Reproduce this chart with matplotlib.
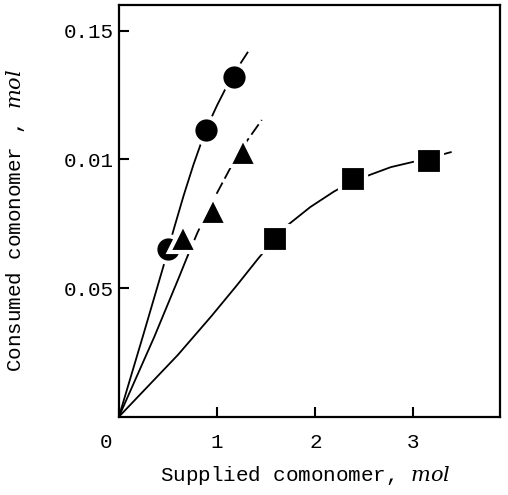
import matplotlib
matplotlib.use("Agg")
import matplotlib.pyplot as plt
import matplotlib.transforms as mtransforms

plt.rcParams['font.family'] = ['Liberation Mono', 'DejaVu Sans Mono']
plt.rcParams['mathtext.fontset'] = 'custom'
plt.rcParams['mathtext.it'] = 'DejaVu Serif:italic'
plt.rcParams['mathtext.rm'] = 'DejaVu Serif'

# Data points (supplied comonomer, consumed comonomer), mol
circle_x = [0.50, 0.885, 1.17]
circle_y = [0.065, 0.1115, 0.132]
tri_x = [0.65, 0.955, 1.26]
tri_y = [0.0695, 0.080, 0.103]
sq_x = [1.59, 2.38, 3.16]
sq_y = [0.0691, 0.0924, 0.0994]

# Hand-drawn curves
circ_curve_x = [0.0, 0.25, 0.45, 0.56, 0.66, 0.76, 0.885, 1.00, 1.10, 1.20, 1.31]
circ_curve_y = [0.0, 0.032, 0.058, 0.073, 0.086, 0.098, 0.1115, 0.121, 0.1285, 0.135, 0.1415]
tri_solid_x = [0.0, 0.36, 0.61, 0.70]
tri_solid_y = [0.0, 0.031, 0.054, 0.0625]
tri_dash_x = [0.70, 0.80, 0.90, 1.00, 1.14, 1.31, 1.455]
tri_dash_y = [0.0625, 0.0715, 0.0795, 0.087, 0.097, 0.1075, 0.1153]
sq_curve_x = [0.0, 0.60, 0.94, 1.20, 1.43, 1.59, 1.72, 1.95, 2.19, 2.38, 2.77, 3.16, 3.38]
sq_curve_y = [0.0, 0.024, 0.039, 0.051, 0.062, 0.0691, 0.0745, 0.0815, 0.0875, 0.0915, 0.097, 0.1005, 0.1028]

yticks = [0.05, 0.10, 0.15]
yticklabels = ['0.05', '0.01', '0.15']
xticks = [0, 1, 2, 3]
xticklabels = ['0', '1', '2', '3']

fig = plt.figure(figsize=(5.08, 4.95), dpi=100)
ax = fig.add_axes([0.234, 0.158, 0.750, 0.832])

lw = 1.3
ax.plot(circ_curve_x, circ_curve_y, color='black', lw=lw)
ax.plot(tri_solid_x, tri_solid_y, color='black', lw=lw)
ax.plot(tri_dash_x, tri_dash_y, color='black', lw=lw, dashes=(7, 2.5))
ax.plot(sq_curve_x, sq_curve_y, color='black', lw=lw)

ax.plot(circle_x, circle_y, 'o', color='black', ms=19, mec='white', mew=3, zorder=3)
ax.plot(tri_x, tri_y, '^', color='black', ms=20, mec='white', mew=3, zorder=3)
ax.plot(sq_x, sq_y, 's', color='black', ms=19, mec='white', mew=3, zorder=3)

ax.set_xlim(0, 3.88)
ax.set_ylim(0, 0.16)

ax.set_xticks(xticks)
ax.set_xticklabels(xticklabels)
ax.set_yticks(yticks)
ax.set_yticklabels(yticklabels)

ax.tick_params(axis='both', direction='in', length=7, width=1.5, labelsize=15)
ax.tick_params(axis='x', pad=12)
ax.tick_params(axis='y', pad=4)

# shift "0" label to the lower-left of the origin
lbl0 = ax.get_xticklabels()[0]
lbl0.set_transform(lbl0.get_transform() + mtransforms.ScaledTranslation(-13/100, 0, fig.dpi_scale_trans))

for s in ax.spines.values():
    s.set_linewidth(1.6)

ax.set_xlabel('Supplied comonomer, $mol$', fontsize=15)
ax.set_ylabel('Consumed comonomer , $mol$', fontsize=15)
ax.xaxis.set_label_coords(0.49, -0.115)
ax.yaxis.set_label_coords(-0.24, 0.476)

fig.savefig('out.png', dpi=100)
